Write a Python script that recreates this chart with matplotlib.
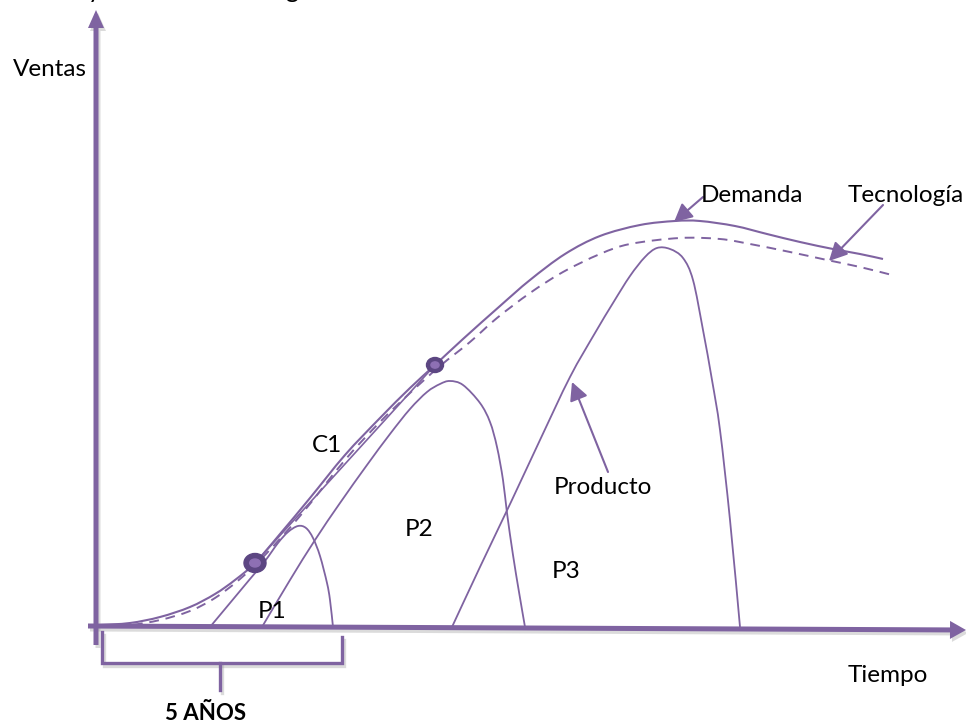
import numpy as np
import matplotlib
matplotlib.use("Agg")
import matplotlib.pyplot as plt
from matplotlib.patches import Ellipse, PathPatch
from matplotlib.path import Path

plt.rcParams['font.family'] = ['Lato', 'DejaVu Sans']

# ---------------- data (time, sales) ----------------
demand_t = [3, 33, 63, 93, 118, 138, 158, 183, 213, 248, 283, 313, 338, 366, 403, 433,
            468, 503, 543, 578, 603, 638, 670, 703, 736, 763, 786]
demand_v = [2, 4, 10, 20, 33, 47, 64, 93, 129, 172, 209, 239, 262, 288, 321, 347,
            373, 391, 402, 406, 406, 401, 393, 385, 378, 373, 368]

tech_t = [3, 33, 63, 93, 118, 143, 168, 203, 248, 283, 313, 343, 373, 400, 433, 466,
          503, 533, 583, 623, 653, 693, 730, 763, 795]
tech_v = [1, 2, 7, 16, 29, 48, 72, 111, 167, 205, 234, 261, 285, 309, 334, 355,
          373, 383, 389, 388, 383, 375, 367, 360, 352]

p1_t = [113, 133, 153, 168, 181, 191, 201, 209, 216, 223, 230, 233, 236]
p1_v = [0, 24, 48, 66, 84, 95, 101, 99, 89, 71, 44, 27, 0]

p2_t = [165, 193, 218, 243, 270, 293, 313, 330, 343, 353, 366, 383, 393, 400, 406, 410,
        416, 422, 428]
p2_v = [0, 47, 87, 124, 162, 193, 218, 235, 243, 246, 242, 224, 205, 180, 147, 114,
        72, 35, 0]

p3_t = [355, 383, 414, 443, 473, 498, 516, 533, 548, 560, 573, 586, 596, 606, 615, 623,
        633, 643]
p3_v = [0, 60, 125, 187, 250, 294, 324, 351, 370, 379, 378, 369, 347, 297, 247, 197,
        107, 0]

dot_times = [158, 338]          # points on demand curve (C1 chord ends)
bracket_span = [5, 245]         # "5 AÑOS"

labels = {
    'Ventas': (-47, 557), 'Demanda': (655, 431), 'Tecnología': (809, 431),
    'C1': (230, 181), 'P1': (175, 16), 'P2': (322, 98), 'P3': (469, 55),
    'Producto': (506, 139), 'Tiempo': (791, -48),
}

PURPLE = '#7F63A1'
DARK = '#5C4682'
LIGHT = '#8E70B4'


def smooth_path(xs, ys):
    """Cubic Bezier path passing through every given point (Catmull-Rom tangents)."""
    p = np.column_stack([xs, ys]).astype(float)
    ext = np.vstack([p[0], p, p[-1]])
    verts = [p[0]]
    codes = [Path.MOVETO]
    for i in range(len(p) - 1):
        a, b, c, d = ext[i], ext[i + 1], ext[i + 2], ext[i + 3]
        verts += [b + (c - a) / 6.0, c - (d - b) / 6.0, c]
        codes += [Path.CURVE4] * 3
    return Path(verts, codes)


# ---------------- figure ----------------
fig = plt.figure(figsize=(9.66, 7.26), dpi=100)
ax = fig.add_axes([0, 0, 1, 1])
ax.set_xlim(-97, 869)
ax.set_ylim(-99, 627)
ax.axis('off')

# cropped title remnants at the top (cut off in the original too)
ax.text(-3, 629, 'y', fontsize=18, ha='center', va='baseline', color='black')
ax.text(195, 629, 'g', fontsize=18, ha='center', va='baseline', color='black')

# axes arrows with soft shadow
for dx, dy, col, alpha, z in [(2, -3, '#9a9a9a', 0.35, 1), (0, 0, PURPLE, 1.0, 3)]:
    ax.arrow(-1 + dx, -18 + dy, 0, 635, width=5, head_width=16, head_length=18,
             length_includes_head=True, color=col, alpha=alpha, lw=0, zorder=z)
    ax.arrow(-9 + dx, 1 + dy, 878, -4, width=5, head_width=18, head_length=16,
             length_includes_head=True, color=col, alpha=alpha, lw=0, zorder=z)

# curves
ax.add_patch(PathPatch(smooth_path(demand_t, demand_v), fill=False, ec=PURPLE, lw=1.5,
                       zorder=4))
ax.add_patch(PathPatch(smooth_path(tech_t, tech_v), fill=False, ec=PURPLE, lw=1.4,
                       ls=(0, (5, 3.5)), zorder=4))
for t, v in [(p1_t, p1_v), (p2_t, p2_v), (p3_t, p3_v)]:
    ax.add_patch(PathPatch(smooth_path(t, v), fill=False, ec=PURPLE, lw=1.3, zorder=4))

# C1 chord and dots
dot_v = np.interp(dot_times, demand_t, demand_v)
ax.plot(dot_times, dot_v, color=PURPLE, lw=1.2, zorder=4)
for (t, v), (w, h) in zip(zip(dot_times, dot_v), [(22, 19), (17, 15)]):
    ax.add_patch(Ellipse((t, v), w, h, color=DARK, zorder=6))
    ax.add_patch(Ellipse((t, v), w * 0.48, h * 0.42, color=LIGHT, zorder=7))

# annotation arrows
arrow_kw = dict(arrowstyle='-|>,head_length=0.55,head_width=0.28', color=PURPLE,
                lw=1.5, shrinkA=0, shrinkB=0, mutation_scale=20)
ax.annotate('', xy=(577, 405), xytext=(606, 430), arrowprops=arrow_kw, zorder=5)
ax.annotate('', xy=(732, 366), xytext=(786, 422), arrowprops=arrow_kw, zorder=5)
ax.annotate('', xy=(475, 245), xytext=(511, 155), arrowprops=arrow_kw, zorder=5)

# labels
for txt, (x, y) in labels.items():
    ax.text(x, y, txt, fontsize=17.5, ha='center', va='center', color='black', zorder=8)

# bracket "5 AÑOS"
b0, b1 = bracket_span
mid = 123
for dx, dy, col, alpha, z in [(2, -3, '#9a9a9a', 0.35, 1), (0, 0, PURPLE, 1.0, 3)]:
    ax.plot([b0 + dx, b0 + dx, b1 + dx, b1 + dx], [-5 + dy, -36 + dy, -36 + dy, -10 + dy],
            color=col, alpha=alpha, lw=2.4, solid_joinstyle='miter', zorder=z)
    ax.plot([mid + dx, mid + dx], [-36 + dy, -63 + dy], color=col, alpha=alpha, lw=2.4,
            zorder=z)
ax.text(109, -86, '5 AÑOS', fontsize=16, fontweight='bold', ha='center', va='center',
        color='black')

fig.savefig('out.png', dpi=100)
